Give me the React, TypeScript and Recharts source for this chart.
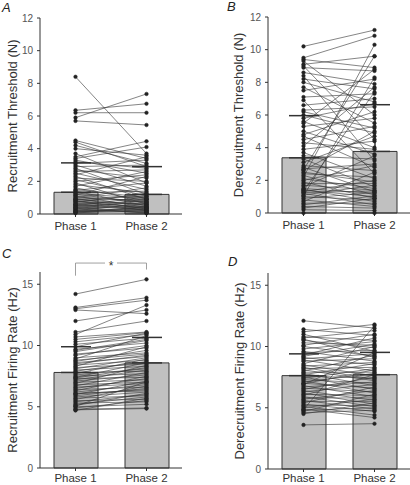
import React from 'react';
import { ComposedChart, Bar, Line, XAxis, YAxis, ErrorBar, ReferenceLine, Label } from 'recharts';

const PHASES = ['Phase 1', 'Phase 2'];

// A: recruitment threshold (N)
const A_MEAN = [1.33, 1.2];
const A_SD = [1.8, 1.7];
const A_P1 = [8.4, 6.35, 6.2, 5.9, 5.7, 4.5, 4.4, 4.2, 4.0, 3.7, 3.5, 3.4, 3.3, 3.2, 3.1, 3.0, 2.9, 2.8, 2.7, 2.6, 2.5, 2.4, 2.3, 2.2, 2.1, 2.0, 1.9, 1.8, 1.7, 1.6, 1.5, 1.45, 1.4, 1.3, 1.2, 1.15, 1.1, 1.0, 0.95, 0.9, 0.85, 0.8, 0.75, 0.7, 0.65, 0.6, 0.55, 0.5, 0.45, 0.4, 0.35, 0.3, 0.25, 0.2, 0.15, 0.1, 0.05, 0.5, 0.9, 1.25, 0.3, 0.2, 0.6, 0.1, 0.4, 0.8, 1.05, 0.15];
const A_P2 = [3.7, 6.75, 6.2, 7.35, 5.45, 3.4, 2.9, 3.1, 3.6, 1.9, 4.45, 4.1, 2.5, 2.8, 3.3, 1.7, 3.0, 1.2, 2.2, 2.7, 1.5, 3.5, 0.9, 2.0, 1.1, 2.4, 0.6, 1.3, 2.6, 0.8, 1.0, 1.9, 0.5, 1.4, 0.7, 2.3, 0.4, 1.6, 0.3, 1.1, 0.9, 0.2, 0.6, 1.25, 0.45, 0.8, 0.35, 0.25, 0.7, 0.15, 0.5, 0.9, 0.1, 0.3, 0.2, 0.05, 0.4, 1.05, 0.55, 0.95, 0.1, 0.65, 0.25, 0.45, 0.05, 0.35, 0.75, 0.2];

// B: derecruitment threshold (N)
const B_MEAN = [3.38, 3.77];
const B_SD = [2.58, 2.86];
const B_P1 = [10.2, 9.5, 9.4, 9.3, 9.1, 9.0, 8.9, 8.6, 8.4, 8.2, 8.0, 7.7, 7.5, 7.1, 6.9, 6.6, 6.3, 6.2, 6.0, 5.8, 5.6, 5.5, 5.3, 5.0, 4.8, 4.7, 4.5, 4.3, 4.1, 3.9, 3.7, 3.5, 3.3, 3.1, 2.9, 2.8, 2.7, 2.6, 2.5, 2.4, 2.3, 2.2, 2.1, 2.0, 1.9, 1.8, 1.7, 1.6, 1.5, 1.45, 1.4, 1.3, 1.25, 1.2, 1.1, 1.0, 0.9, 0.8, 0.7, 0.6, 0.5, 0.4, 0.3, 0.2, 0.0, 1.05, 2.65, 1.35];
const B_P2 = [11.2, 10.85, 8.9, 6.0, 9.6, 4.5, 8.7, 7.9, 3.2, 7.6, 6.8, 5.5, 8.2, 7.3, 2.4, 7.0, 6.5, 5.2, 4.9, 6.7, 4.0, 8.8, 5.8, 3.6, 6.2, 2.8, 5.3, 3.9, 7.7, 4.4, 2.1, 3.3, 1.6, 4.7, 2.6, 1.3, 3.0, 5.0, 1.9, 2.2, 1.1, 10.3, 1.5, 2.9, 0.9, 1.8, 1.4, 3.5, 1.2, 0.7, 1.0, 2.0, 1.35, 0.5, 1.7, 0.8, 1.25, 0.4, 2.5, 0.6, 1.05, 0.3, 0.9, 0.15, 0.0, 8.3, 9.6, 7.4];

// C: recruitment firing rate (Hz)
const C_MEAN = [7.8, 8.58];
const C_SD = [2.1, 2.08];
const C_P1 = [14.2, 13.1, 13.0, 12.9, 12.0, 11.1, 10.9, 10.7, 10.3, 10.1, 9.9, 9.7, 9.5, 9.3, 9.2, 9.0, 8.9, 8.7, 8.6, 8.5, 8.4, 8.3, 8.2, 8.1, 8.0, 7.9, 7.8, 7.7, 7.6, 7.5, 7.4, 7.3, 7.2, 7.1, 7.0, 6.9, 6.8, 6.7, 6.6, 6.5, 6.4, 6.3, 6.2, 6.1, 6.0, 5.9, 5.8, 5.7, 5.6, 5.5, 5.4, 5.3, 5.2, 5.1, 5.0, 4.9, 4.8, 4.7, 4.75, 5.05, 10.5, 9.6, 8.8, 7.35, 6.05];
const C_P2 = [15.4, 13.9, 13.7, 12.6, 12.9, 12.0, 13.3, 11.1, 10.9, 10.6, 11.0, 10.2, 10.4, 9.8, 10.0, 9.4, 10.8, 9.6, 9.1, 9.2, 8.8, 9.9, 8.5, 9.0, 8.3, 8.7, 7.9, 8.9, 8.1, 7.7, 8.6, 7.4, 8.0, 7.6, 7.2, 8.4, 7.0, 7.8, 6.9, 7.3, 6.6, 7.5, 6.8, 6.3, 7.1, 6.5, 6.2, 5.9, 6.7, 5.6, 6.0, 5.4, 5.8, 6.1, 5.2, 5.5, 4.9, 5.7, 4.85, 7.05, 11.05, 10.5, 9.3, 8.2, 6.4];

// D: derecruitment firing rate (Hz)
const D_MEAN = [7.62, 7.7];
const D_SD = [1.78, 1.82];
const D_P1 = [12.1, 11.4, 11.2, 11.0, 10.8, 10.7, 10.5, 10.3, 10.1, 10.0, 9.8, 9.6, 9.5, 9.3, 9.1, 9.0, 8.9, 8.8, 8.6, 8.5, 8.4, 8.2, 8.1, 8.0, 7.9, 7.8, 7.7, 7.6, 7.5, 7.4, 7.3, 7.2, 7.1, 7.0, 6.9, 6.8, 6.7, 6.6, 6.5, 6.4, 6.3, 6.2, 6.1, 6.0, 5.9, 5.8, 5.7, 5.6, 5.5, 5.4, 5.3, 5.2, 5.1, 5.0, 4.9, 4.8, 4.7, 4.6, 4.5, 3.6, 4.85, 10.6, 9.2, 8.3, 6.95];
const D_P2 = [11.5, 10.9, 11.8, 9.6, 10.5, 11.3, 9.9, 10.1, 11.0, 9.2, 10.4, 8.8, 9.7, 10.7, 8.5, 9.4, 8.0, 9.0, 10.0, 7.6, 8.7, 8.3, 7.2, 9.3, 7.9, 6.8, 8.6, 7.4, 6.5, 8.2, 7.0, 6.2, 7.8, 6.6, 9.5, 5.9, 7.1, 6.3, 7.5, 5.6, 6.9, 5.3, 6.0, 7.7, 5.1, 5.8, 6.4, 4.9, 5.5, 6.7, 4.7, 5.2, 4.4, 5.7, 4.2, 5.0, 6.1, 4.8, 5.4, 3.7, 11.7, 9.1, 10.2, 7.3, 8.1];

const FONT = '"Liberation Sans", Arial, Helvetica, sans-serif';

const buildRows = (mean: number[], sd: number[], p1: number[], p2: number[]) =>
  PHASES.map((phase, k) => {
    const row: Record<string, any> = { phase, mean: mean[k], err: [0, sd[k]] };
    const vals = k === 0 ? p1 : p2;
    vals.forEach((v, i) => { row['s' + i] = v; });
    return row;
  });

// asterisk sitting in a small gap of the bracket line
const Star = (props: any) => {
  const { viewBox } = props;
  const cx = viewBox.x + viewBox.width / 2;
  const cy = viewBox.y;
  return (
    <g>
      <rect x={cx - 6} y={cy - 2} width={12} height={4} fill="#fff" />
      <text x={cx} y={cy + 7} textAnchor="middle" fontSize={12} fill="#333" fontFamily={FONT}>*</text>
    </g>
  );
};

type PanelProps = {
  rows: Record<string, any>[];
  n: number;
  width: number;
  height: number;
  top: number;
  right: number;
  xHeight: number;
  tickGap: number;
  domain: [number, number];
  ticks: number[];
  title: string;
  titleOffset: number;
  bracket?: boolean;
};

const Panel = ({ rows, n, width, height, top, right, xHeight, tickGap, domain, ticks, title, titleOffset, bracket }: PanelProps) => (
  <ComposedChart width={width} height={height} data={rows} margin={{ top, right, bottom: 0, left: 0 }} style={{ overflow: 'visible' }}>
    <XAxis
      dataKey="phase"
      height={xHeight}
      tickSize={3}
      tickMargin={tickGap}
      stroke="#333"
      tick={{ fill: '#333', fontSize: 11.5, fontFamily: FONT }}
    />
    <YAxis
      width={40}
      domain={domain}
      ticks={ticks}
      tickSize={3}
      tickMargin={4}
      stroke="#333"
      tick={{ fill: '#555', fontSize: 10, fontFamily: FONT }}
      label={{ value: title, angle: -90, position: 'insideLeft', offset: titleOffset, style: { textAnchor: 'middle', fill: '#333', fontSize: 13, fontFamily: FONT } }}
    />
    <Bar dataKey="mean" barSize={44} fill="#c0c0c0" stroke="#333" strokeWidth={1} isAnimationActive={false}>
      <ErrorBar dataKey="err" width={15} stroke="#333" strokeWidth={1.5} direction="y" />
    </Bar>
    {Array.from({ length: n }, (_, i) => (
      <Line
        key={i}
        dataKey={'s' + i}
        stroke="#333"
        strokeWidth={0.6}
        dot={{ r: 1.8, fill: '#222', stroke: '#222', strokeWidth: 0.5 }}
        activeDot={false}
        isAnimationActive={false}
      />
    ))}
    {bracket && (
      <ReferenceLine segment={[{ x: PHASES[0], y: 16.73 }, { x: PHASES[1], y: 16.73 }]} stroke="#888" strokeWidth={0.8} ifOverflow="visible">
        <Label content={Star} />
      </ReferenceLine>
    )}
    {bracket && (
      <ReferenceLine segment={[{ x: PHASES[0], y: 16.73 }, { x: PHASES[0], y: 15.7 }]} stroke="#888" strokeWidth={0.8} ifOverflow="visible" />
    )}
    {bracket && (
      <ReferenceLine segment={[{ x: PHASES[1], y: 16.73 }, { x: PHASES[1], y: 16.2 }]} stroke="#888" strokeWidth={0.8} ifOverflow="visible" />
    )}
  </ComposedChart>
);

const letter = (ch: string, left: number, top: number) => (
  <div style={{ position: 'absolute', left, top, fontFamily: FONT, fontStyle: 'italic', fontSize: 13, lineHeight: '13px', color: '#222' }}>{ch}</div>
);

export default function App() {
  const a = buildRows(A_MEAN, A_SD, A_P1, A_P2);
  const b = buildRows(B_MEAN, B_SD, B_P1, B_P2);
  const c = buildRows(C_MEAN, C_SD, C_P1, C_P2);
  const d = buildRows(D_MEAN, D_SD, D_P1, D_P2);
  return (
    <div style={{ position: 'absolute', left: 0, top: 0, width: 410, height: 485, background: '#fff', overflow: 'hidden' }}>
      <div style={{ position: 'absolute', left: 0, top: 0 }}>
        <Panel rows={a} n={A_P1.length} width={205} height={240} top={18} right={23} xHeight={26} tickGap={5} domain={[0, 12]} ticks={[0, 2, 4, 6, 8, 10, 12]} title="Recruitment Threshold (N)" titleOffset={12} />
      </div>
      <div style={{ position: 'absolute', left: 228, top: 0 }}>
        <Panel rows={b} n={B_P1.length} width={182} height={239} top={17} right={0} xHeight={26} tickGap={5} domain={[0, 12]} ticks={[0, 2, 4, 6, 8, 10, 12]} title="Derecruitment Threshold (N)" titleOffset={10} />
      </div>
      <div style={{ position: 'absolute', left: 0, top: 240 }}>
        <Panel rows={c} n={C_P1.length} width={205} height={254} top={32} right={23} xHeight={26} tickGap={3} domain={[0, 16]} ticks={[0, 5, 10, 15]} title="Recruitment Firing Rate (Hz)" titleOffset={12} bracket />
      </div>
      <div style={{ position: 'absolute', left: 228, top: 241 }}>
        <Panel rows={d} n={D_P1.length} width={182} height={254} top={32} right={0} xHeight={26} tickGap={2} domain={[0, 16]} ticks={[0, 5, 10, 15]} title="Derecruitment Firing Rate (Hz)" titleOffset={11} />
      </div>
      {letter('A', 2, 1)}
      {letter('B', 227, 0)}
      {letter('C', 2, 247)}
      {letter('D', 228, 255)}
    </div>
  );
}
